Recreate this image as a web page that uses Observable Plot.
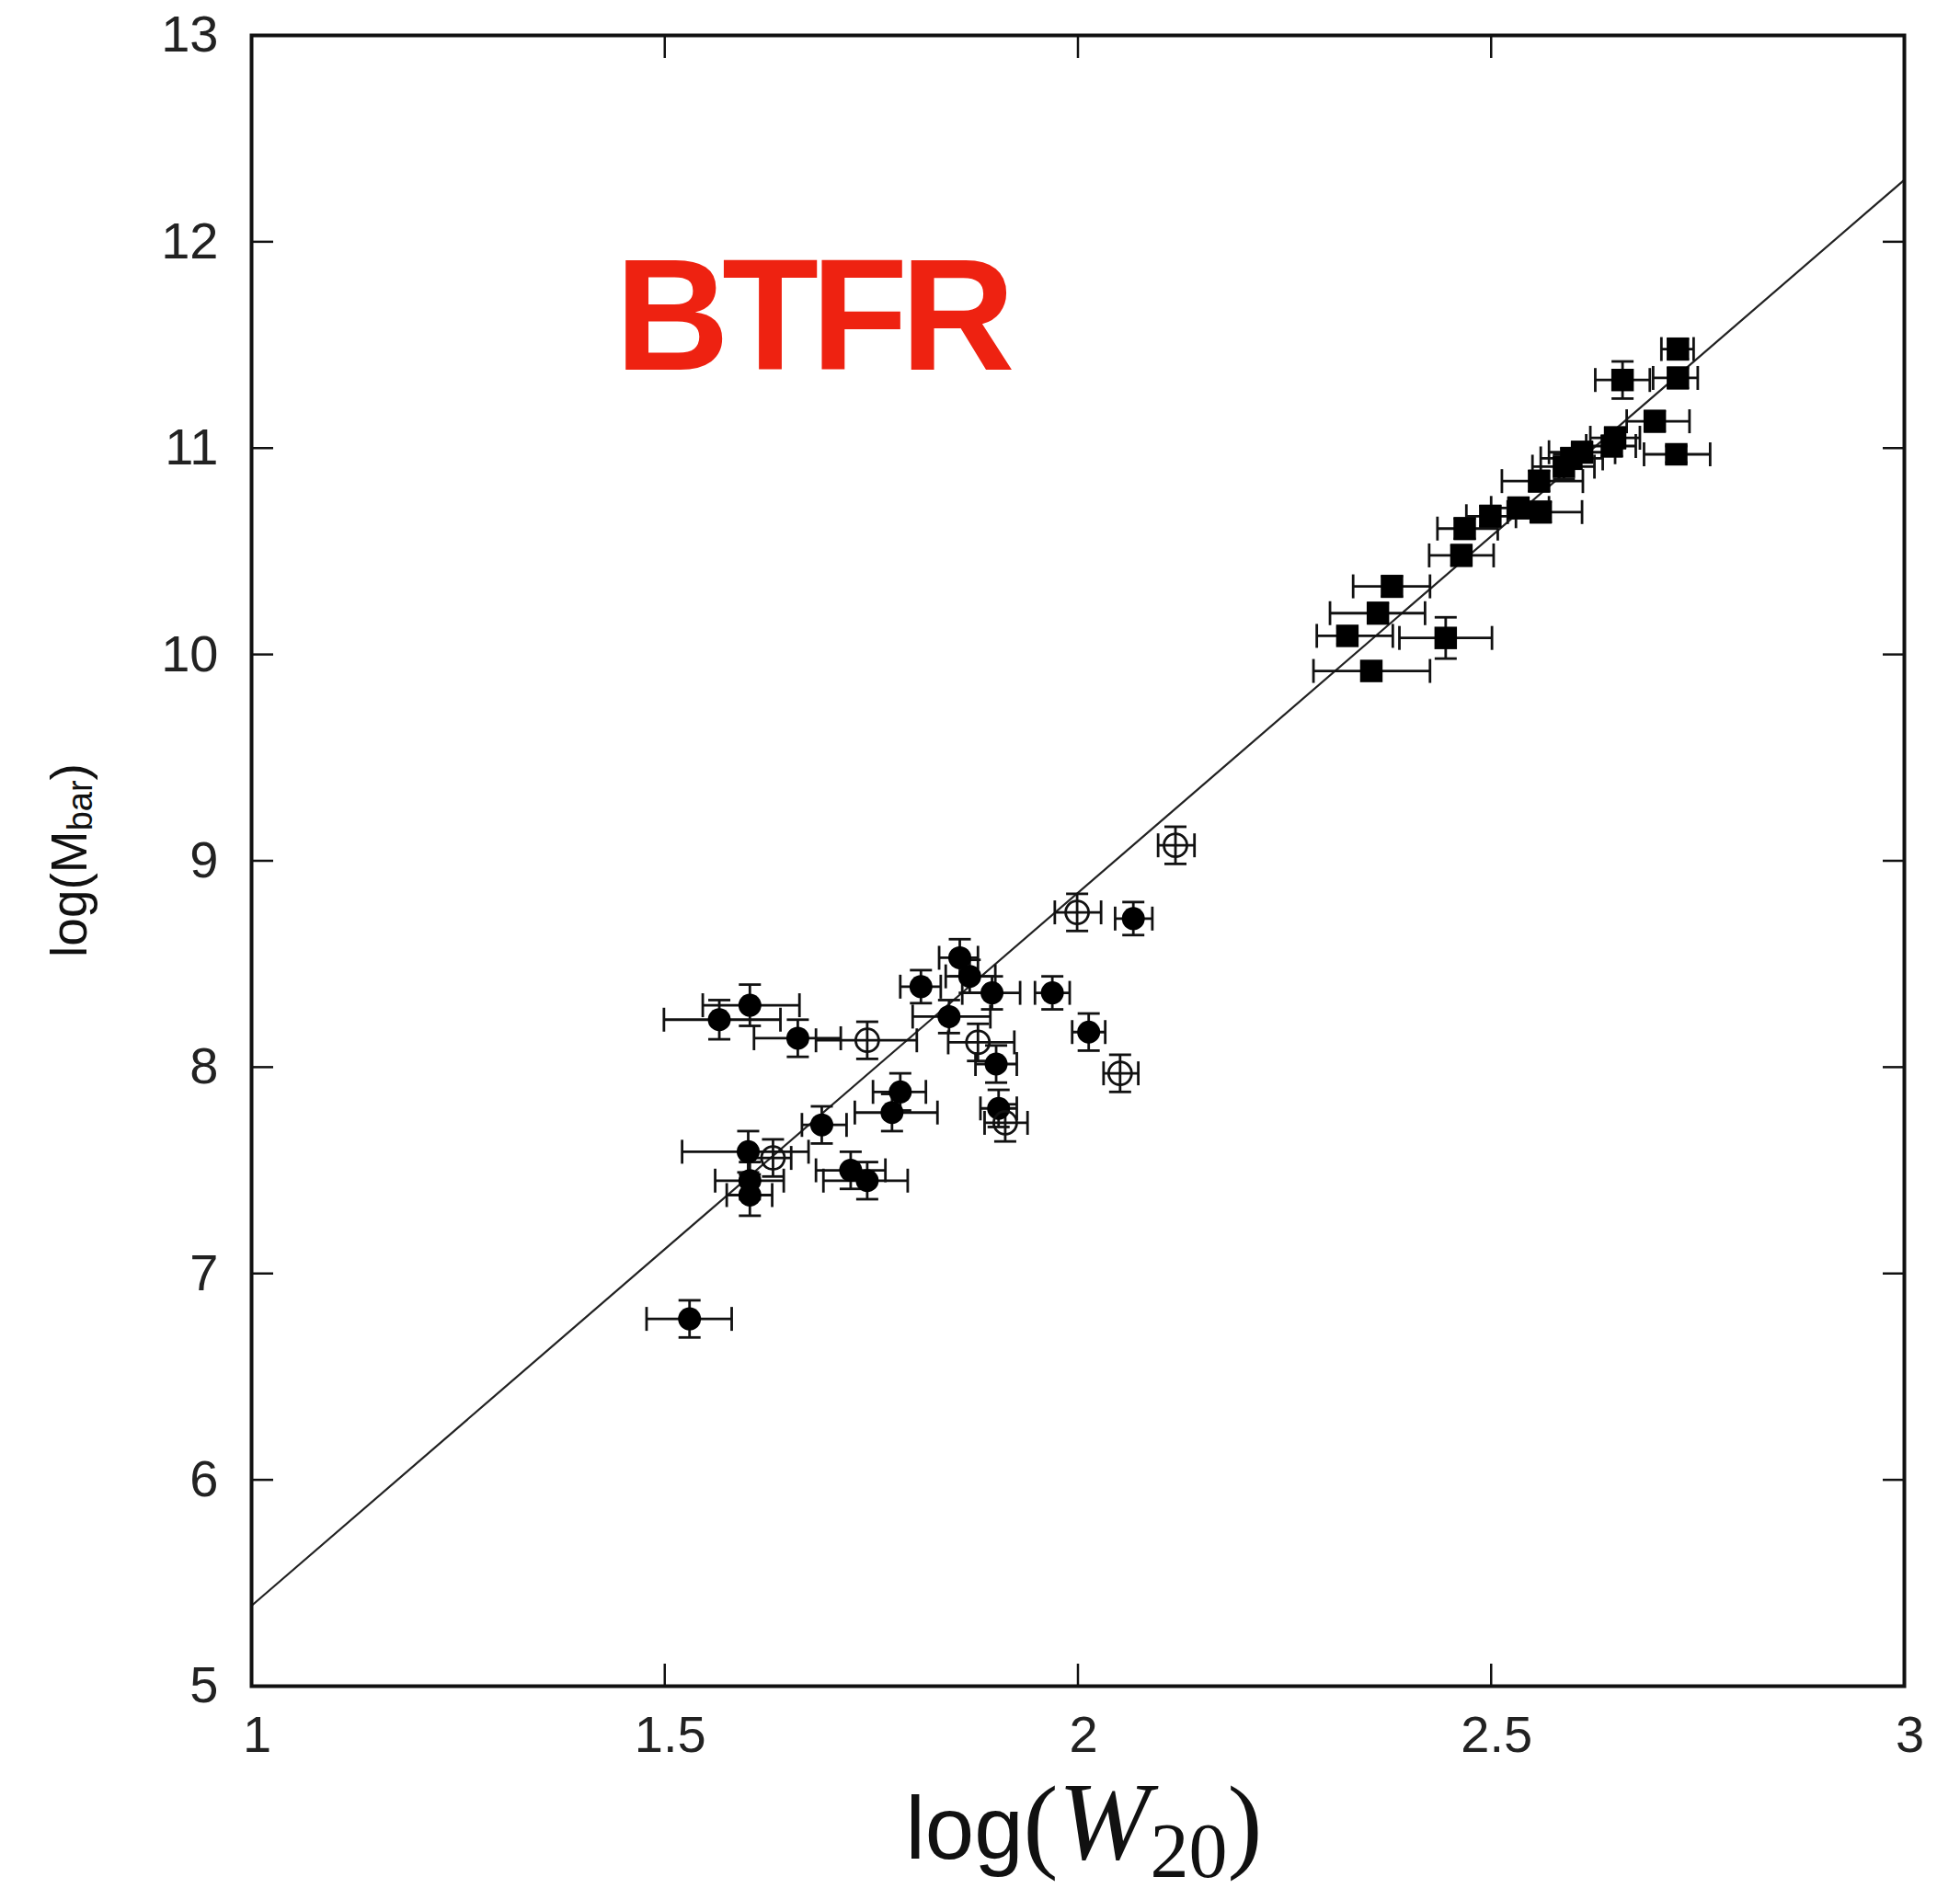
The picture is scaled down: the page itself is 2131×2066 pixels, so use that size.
<!DOCTYPE html>
<html>
<head>
<meta charset="utf-8">
<script src="https://cdn.jsdelivr.net/npm/d3@7"></script>
<script src="https://cdn.jsdelivr.net/npm/@observablehq/plot@0.6"></script>
<style>
  html, body { margin: 0; padding: 0; background: #fff; }
  #chart { width: 2131px; height: 2066px; }
</style>
</head>
<body>
<div id="chart"></div>
<script>
// ---- Data ----
// kind: "dwarf" = filled round markers, "open" = open circles, "spiral" = filled squares
const kind = [
  "dwarf","dwarf","dwarf","dwarf","dwarf","dwarf","dwarf","dwarf","dwarf","dwarf","dwarf",
  "dwarf","dwarf","dwarf","dwarf","dwarf","dwarf","dwarf","dwarf","dwarf","dwarf","dwarf",
  "open","open","open","open","open","open","open",
  "spiral","spiral","spiral","spiral","spiral","spiral","spiral","spiral","spiral","spiral","spiral",
  "spiral","spiral","spiral","spiral","spiral","spiral","spiral","spiral","spiral","spiral"
];
const logW = [
  1.530, 1.566, 1.603, 1.661, 1.810, 1.857, 1.869, 1.896, 1.969, 1.844, 1.901,
  2.013, 2.067, 1.785, 1.775, 1.690, 1.601, 1.603, 1.603, 1.725, 1.745, 1.904,
  1.745, 1.879, 2.051, 1.631, 1.912, 1.999, 2.118,
  2.726, 2.726, 2.659, 2.698, 2.724, 2.650, 2.646, 2.610, 2.597, 2.588, 2.558,
  2.560, 2.533, 2.499, 2.468, 2.464, 2.380, 2.363, 2.326, 2.445, 2.355
];
const logM = [
  6.78, 8.23, 8.30, 8.14, 8.39, 8.53, 8.44, 8.36, 8.36, 8.245, 8.015,
  8.17, 8.72, 7.88, 7.78, 7.72, 7.59, 7.45, 7.38, 7.50, 7.45, 7.80,
  8.13, 8.12, 7.97, 7.56, 7.73, 8.75, 9.075,
  11.48, 11.34, 11.33, 11.13, 10.97, 11.05, 11.01, 10.98, 10.95, 10.91, 10.84,
  10.69, 10.71, 10.67, 10.61, 10.48, 10.33, 10.20, 10.09, 10.08, 9.92
];
const logWLow = [
  1.478, 1.499, 1.546, 1.608, 1.785, 1.832, 1.840, 1.860, 1.948, 1.800, 1.876,
  1.993, 2.045, 1.752, 1.730, 1.666, 1.521, 1.561, 1.575, 1.683, 1.692, 1.882,
  1.683, 1.843, 2.031, 1.601, 1.887, 1.972, 2.097,
  2.706, 2.696, 2.626, 2.664, 2.685, 2.620, 2.615, 2.570, 2.560, 2.550, 2.513,
  2.520, 2.500, 2.470, 2.435, 2.425, 2.333, 2.305, 2.289, 2.389, 2.285
];
const logWHigh = [
  1.581, 1.640, 1.663, 1.713, 1.834, 1.879, 1.900, 1.930, 1.990, 1.894, 1.926,
  2.033, 2.090, 1.816, 1.830, 1.720, 1.674, 1.644, 1.630, 1.767, 1.794, 1.926,
  1.805, 1.923, 2.073, 1.653, 1.939, 2.028, 2.141,
  2.745, 2.750, 2.692, 2.740, 2.765, 2.680, 2.675, 2.650, 2.635, 2.625, 2.611,
  2.610, 2.570, 2.530, 2.508, 2.503, 2.426, 2.420, 2.381, 2.501, 2.426
];
const logMErr = [
  0.09, 0.095, 0.10, 0.09, 0.08, 0.09, 0.08, 0.08, 0.08, 0.08, 0.09,
  0.09, 0.08, 0.09, 0.09, 0.09, 0.10, 0.09, 0.10, 0.09, 0.09, 0.09,
  0.09, 0.09, 0.09, 0.09, 0.09, 0.09, 0.09,
  0.05, 0.05, 0.09, 0.05, 0.04, 0.05, 0.05, 0.05, 0.05, 0.06, 0.05,
  0.05, 0.05, 0.05, 0.05, 0.05, 0.05, 0.05, 0.04, 0.10, 0.04
];
// fitted relation (end points at the frame edges)
const fitW = [1, 3];
const fitM = [5.39, 12.30];
// tick values and labels
const xTicks = [1, 1.5, 2, 2.5, 3];
const xTickLabels = ["1", "1.5", "2", "2.5", "3"];
const yTicks = [5, 6, 7, 8, 9, 10, 11, 12, 13];
const yTickLabels = ["5", "6", "7", "8", "9", "10", "11", "12", "13"];
// annotation
const annText = ["BTFR"];
const annW = [1.44];
const annM = [11.378];

// ---- Build tables ----
const pts = logW.map((x, i) => ({
  kind: kind[i], x, y: logM[i], lo: logWLow[i], hi: logWHigh[i],
  yLo: logM[i] - logMErr[i], yHi: logM[i] + logMErr[i]
}));
const fit = fitW.map((x, i) => ({x, y: fitM[i]}));
const ann = annText.map((t, i) => ({t, x: annW[i], y: annM[i]}));
const xFmt = d => xTickLabels[xTicks.indexOf(d)];
const yFmt = d => yTickLabels[yTicks.indexOf(d)];

// cap symbols
const hCap = {draw(ctx, size) { const r = Math.sqrt(size / Math.PI); ctx.moveTo(-r, 0); ctx.lineTo(r, 0); }};
const vCap = {draw(ctx, size) { const r = Math.sqrt(size / Math.PI); ctx.moveTo(0, -r); ctx.lineTo(0, r); }};

const ink = "#111";
const sw = 2.8;
const chart = Plot.plot({
  width: 2131,
  height: 2066,
  marginLeft: 273,
  marginRight: 61,
  marginTop: 38,
  marginBottom: 233,
  x: {domain: [1, 3], label: null},
  y: {domain: [5, 13], label: null},
  style: {fontFamily: "'Liberation Sans', Arial, sans-serif", background: "white", color: ink},
  marks: [
    // inward ticks on all four sides
    Plot.axisX(xTicks, {anchor: "bottom", tickSize: -24, strokeWidth: 2.5, stroke: ink, fill: "none", label: null}),
    Plot.axisX(xTicks, {anchor: "top", tickSize: -24, strokeWidth: 2.5, stroke: ink, fill: "none", label: null}),
    Plot.axisY(yTicks, {anchor: "left", tickSize: -24, strokeWidth: 2.5, stroke: ink, fill: "none", label: null}),
    Plot.axisY(yTicks, {anchor: "right", tickSize: -24, strokeWidth: 2.5, stroke: ink, fill: "none", label: null}),
    // tick labels
    Plot.axisX(xTicks, {anchor: "bottom", tickSize: 0, tickPadding: 32, dx: 6, fontSize: 56, fill: "#222", tickFormat: xFmt, label: null}),
    Plot.axisY(yTicks, {anchor: "left", tickSize: 0, tickPadding: 36, fontSize: 56, fill: "#222", tickFormat: yFmt, label: null}),
    // fit line
    Plot.line(fit, {x: "x", y: "y", stroke: "#222", strokeWidth: 2.2}),
    // error bars
    Plot.ruleY(pts, {y: "y", x1: "lo", x2: "hi", stroke: ink, strokeWidth: sw}),
    Plot.ruleX(pts, {x: "x", y1: "yLo", y2: "yHi", stroke: ink, strokeWidth: sw}),
    Plot.dot(pts, {x: "lo", y: "y", symbol: vCap, r: 13, stroke: ink, strokeWidth: sw, fill: "none"}),
    Plot.dot(pts, {x: "hi", y: "y", symbol: vCap, r: 13, stroke: ink, strokeWidth: sw, fill: "none"}),
    Plot.dot(pts, {x: "x", y: "yLo", symbol: hCap, r: 12, stroke: ink, strokeWidth: sw, fill: "none"}),
    Plot.dot(pts, {x: "x", y: "yHi", symbol: hCap, r: 12, stroke: ink, strokeWidth: sw, fill: "none"}),
    // markers
    Plot.dot(pts.filter(d => d.kind === "spiral"), {x: "x", y: "y", symbol: "square", r: 13.8, fill: "black", stroke: "none"}),
    Plot.dot(pts.filter(d => d.kind === "dwarf"), {x: "x", y: "y", symbol: "circle", r: 12.5, fill: "black", stroke: "none"}),
    Plot.dot(pts.filter(d => d.kind === "open"), {x: "x", y: "y", symbol: "circle", r: 12.5, fill: "none", stroke: ink, strokeWidth: sw}),
    // annotation
    Plot.text(ann, {x: "x", y: "y", text: "t", fill: "#ee2211", fontSize: 172, fontWeight: "bold",
      textAnchor: "start", lineAnchor: "bottom", fontFamily: "'Liberation Sans', Arial, sans-serif",
      className: "btfr"}),
    Plot.frame({stroke: ink, strokeWidth: 4})
  ]
});
document.getElementById("chart").appendChild(chart);

const svg = d3.select(chart);
// tighten the annotation like the reference lettering
svg.selectAll("g.btfr text").style("letter-spacing", "-8px");

// axis titles with sub-scripts
const xr = chart.scale("x").range, yr = chart.scale("y").range;
const xMid = (xr[0] + xr[1]) / 2 + 7;
const xt = svg.append("text")
  .attr("x", xMid).attr("y", yr[0] + 188)
  .attr("text-anchor", "middle").attr("fill", ink);
xt.append("tspan").attr("font-family", "'Liberation Sans', Arial, sans-serif").attr("font-size", 96).text("log");
xt.append("tspan").attr("font-family", "'Liberation Serif', 'Times New Roman', serif").attr("font-size", 114).text("(");
xt.append("tspan").attr("font-family", "'Liberation Serif', 'Times New Roman', serif").attr("font-style", "italic").attr("font-size", 120).text("W");
xt.append("tspan").attr("font-family", "'Liberation Serif', 'Times New Roman', serif").attr("font-size", 84).attr("dy", 20).text("20");
xt.append("tspan").attr("font-family", "'Liberation Serif', 'Times New Roman', serif").attr("font-size", 114).attr("dy", -20).text(")");

const yMid = (yr[0] + yr[1]) / 2;
const yt = svg.append("text")
  .attr("transform", `translate(${xr[0] - 198},${yMid}) rotate(-90)`)
  .attr("text-anchor", "middle").attr("dominant-baseline", "central")
  .attr("fill", ink).attr("font-family", "'Liberation Sans', Arial, sans-serif").attr("font-size", 55);
yt.append("tspan").text("log(M");
yt.append("tspan").attr("font-size", 38).attr("dy", 12).text("bar");
yt.append("tspan").attr("dy", -12).text(")");
</script>
</body>
</html>
